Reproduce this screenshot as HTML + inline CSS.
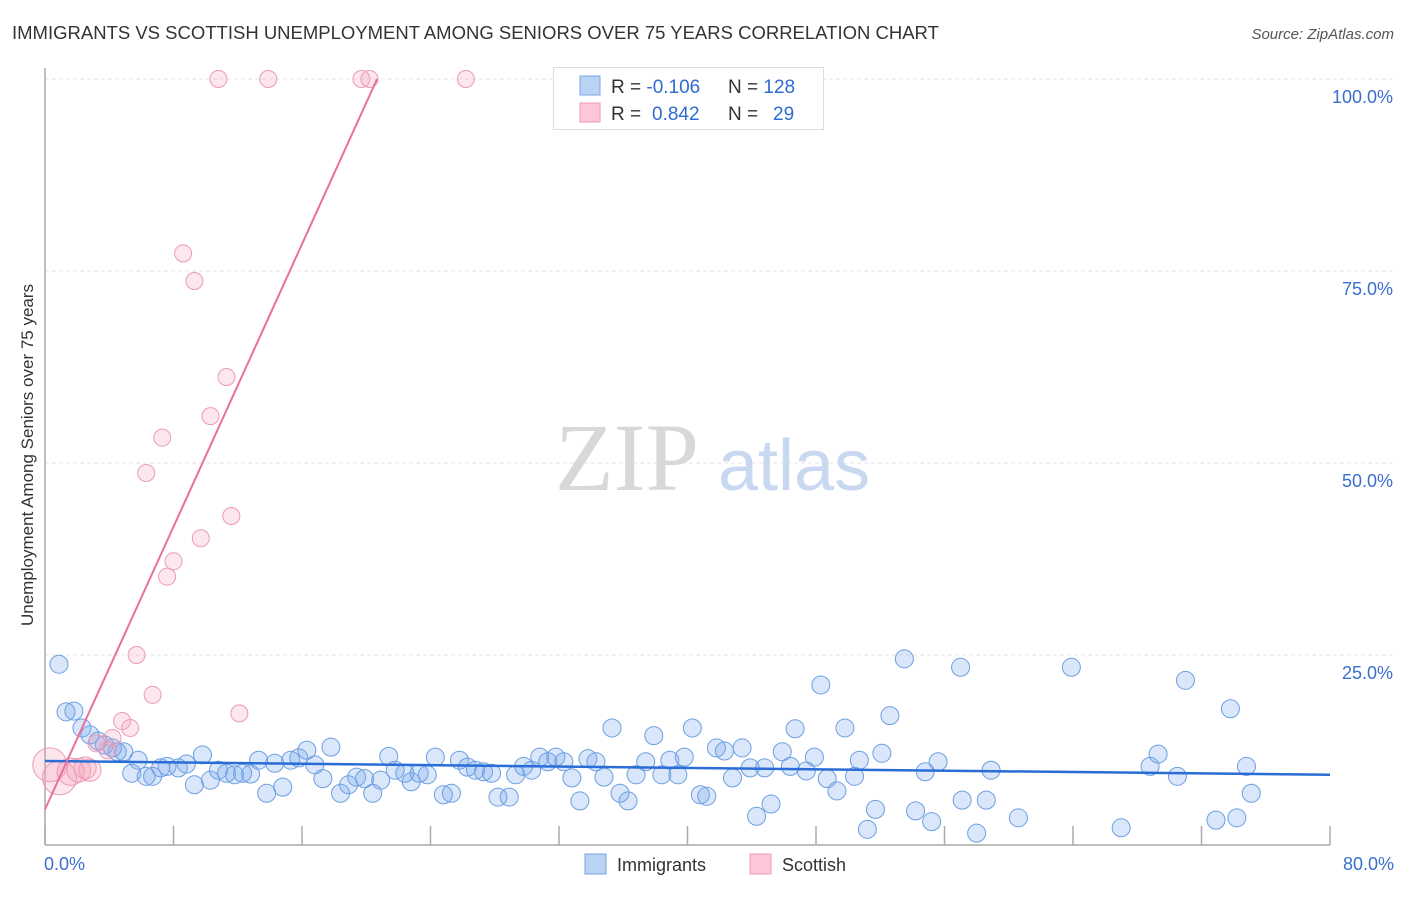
<!DOCTYPE html>
<html><head><meta charset="utf-8"><style>
body{margin:0;background:#fff;font-family:"Liberation Sans",sans-serif}
</style></head><body>
<svg width="1406" height="892" xmlns="http://www.w3.org/2000/svg">
<text x="12" y="39" font-size="18.5" fill="#333">IMMIGRANTS VS SCOTTISH UNEMPLOYMENT AMONG SENIORS OVER 75 YEARS CORRELATION CHART</text>
<text x="1394" y="39" font-size="15" fill="#555" font-style="italic" text-anchor="end">Source: ZipAtlas.com</text>
<g id="grid"></g>
<text x="555" y="490" font-size="96" font-family="Liberation Serif,serif" fill="#d8d8d8">ZIP</text>
<text x="718" y="490" font-size="72" fill="#c8d8f0">atlas</text>
<g id="axes"></g>
<g id="marks"></g>
<text transform="translate(33,455) rotate(-90)" font-size="17" fill="#333" text-anchor="middle">Unemployment Among Seniors over 75 years</text>
<g>
<rect x="553.5" y="67.5" width="270" height="62" fill="#fff" stroke="#ddd"/>
<rect x="580" y="76" width="20" height="19" fill="#b9d3f5" stroke="#7aa6e4"/>
<rect x="580" y="103" width="20" height="19" fill="#fcc8d8" stroke="#ec9ab6"/>
<text x="611" y="93" font-size="19" fill="#333">R = <tspan fill="#2f6bd0">-0.106</tspan></text>
<text x="728" y="93" font-size="19" fill="#333">N = <tspan fill="#2f6bd0">128</tspan></text>
<text x="611" y="120" font-size="19" fill="#333">R = <tspan fill="#2f6bd0" x="652">0.842</tspan></text>
<text x="728" y="120" font-size="19" fill="#333">N = <tspan fill="#2f6bd0" x="773">29</tspan></text>
</g>
<g>
<rect x="585" y="854" width="21" height="20" fill="#b9d3f5" stroke="#7aa6e4"/>
<text x="617" y="871" font-size="18" fill="#333">Immigrants</text>
<rect x="750" y="854" width="21" height="20" fill="#fcc8d8" stroke="#ec9ab6"/>
<text x="782" y="871" font-size="18" fill="#333">Scottish</text>
</g>
</svg>
<script>
const xTicks=[0,8,16,24,32,40,48,56,64,72,80];
const xTickLabels=["0.0%","80.0%"];
const yTicks=[25,50,75,100];
const yTickLabels=["25.0%","50.0%","75.0%","100.0%"];
const blueX=[0.87,1.31,1.8,2.3,2.8,3.3,3.7,4.2,4.5,4.9,5.8,5.4,6.3,6.7,7.2,7.6,8.3,8.8,9.3,9.8,10.3,10.8,11.3,11.8,12.3,12.8,13.3,13.8,14.3,14.8,15.3,15.8,16.3,16.8,17.3,17.8,18.4,18.9,19.4,19.9,20.4,20.9,21.4,21.8,22.4,22.8,23.3,23.8,24.3,24.8,25.3,25.8,26.3,26.8,27.3,27.8,28.2,28.9,29.3,29.8,30.3,30.8,31.3,31.8,32.3,32.8,33.3,33.8,34.3,34.8,35.3,35.8,36.3,36.8,37.4,37.9,38.4,38.9,39.4,39.8,40.3,40.8,41.2,41.8,42.3,42.8,43.4,43.9,44.3,44.8,45.2,45.9,46.4,46.7,47.4,47.9,48.3,48.7,49.3,49.8,50.4,50.7,51.2,51.7,52.1,52.6,53.5,54.2,54.8,55.2,55.6,57.0,57.1,58.0,58.6,58.9,60.6,63.9,67.0,68.8,69.3,70.5,71.0,72.9,73.8,74.2,74.8,75.1];
const blueY=[23.8,17.6,17.7,15.5,14.6,13.8,13.3,12.9,12.4,12.4,11.3,9.6,9.2,9.2,10.3,10.5,10.3,10.8,8.1,12.0,8.7,10.0,9.6,9.4,9.6,9.5,11.3,7.0,10.9,7.8,11.3,11.6,12.6,10.7,8.9,13.0,7.0,8.1,9.1,8.9,7.0,8.7,11.8,10.0,9.6,8.5,9.6,9.4,11.7,6.8,7.0,11.3,10.4,10.0,9.8,9.6,6.5,6.5,9.4,10.5,10.0,11.7,11.1,11.7,11.1,9.0,6.0,11.5,11.1,9.1,15.5,7.0,6.0,9.4,11.1,14.5,9.4,11.3,9.4,11.7,15.5,6.8,6.6,12.9,12.5,9.0,12.9,10.3,4.0,10.3,5.6,12.4,10.5,15.4,9.9,11.7,21.1,8.9,7.3,15.5,9.2,11.3,2.3,4.9,12.2,17.1,24.5,4.7,9.8,3.3,11.1,23.4,6.1,1.8,6.1,10.0,3.8,23.4,2.5,10.5,12.1,9.2,21.7,3.5,18.0,3.8,10.5,7.0];
const pinkX=[10.8,13.9,19.7,20.2,26.2,8.6,9.3,11.3,10.3,7.3,6.3,9.7,11.6,8.0,7.6,5.7,6.7,12.1,4.8,5.3,4.2,3.2,3.9,0.3,0.9,1.6,2.1,2.5,2.8];
const pinkY=[100,100,100,100,100,77.3,73.7,61.2,56.1,53.3,48.7,40.2,43.1,37.2,35.2,25.0,19.8,17.4,16.4,15.5,14.2,13.5,12.6,10.7,9.0,9.8,10.0,10.3,10.0];
const pinkSize=[1,1,1,1,1,1,1,1,1,1,1,1,1,1,1,1,1,1,1,1,1,1,1,2,2,1.6,1.4,1.3,1.3];
const blueLine=[11.2,-0.0225];
const pinkLine=[4.9,4.6];
const X0=45,X1=1330,Y0=847,Y100=79;
const sx=v=>X0+(v/80)*(X1-X0);
const sy=v=>Y0-(v/100)*(Y0-Y100);
const NS="http://www.w3.org/2000/svg";
function mk(tag,attrs,parent){const e=document.createElementNS(NS,tag);for(const k in attrs)e.setAttribute(k,attrs[k]);document.getElementById(parent).appendChild(e);return e;}
yTicks.forEach((t,i)=>{
 const g=mk('line',{x1:X0,x2:1393,y1:sy(t),y2:sy(t),stroke:'#e4e4e4','stroke-dasharray':'4,3'},'grid');
 
 
 const l=mk('text',{x:1393,y:sy(t)+24,'font-size':18,fill:'#3a6fd0','text-anchor':'end'},'grid');
 l.textContent=yTickLabels[i];
 
 
});
const ax=mk('line',{x1:X0,x2:X0,y1:68,y2:845,stroke:'#aaa','stroke-width':1.5},'axes');


const bx=mk('line',{x1:X0,x2:X1,y1:845,y2:845,stroke:'#aaa','stroke-width':1.5},'axes');


xTicks.forEach(t=>{
 const tk=mk('line',{x1:sx(t),x2:sx(t),y1:826,y2:845,stroke:'#aaa','stroke-width':1.5},'axes');
 
 
});
[[0,'start',44],[80,'end',1394]].forEach((d,i)=>{
 const l=mk('text',{x:d[2],y:870,'font-size':18,fill:'#3a6fd0','text-anchor':d[1]},'axes');
 l.textContent=xTickLabels[i];
 
 
});
blueX.forEach((x,i)=>{
 const c=mk('circle',{cx:sx(x),cy:sy(blueY[i]),r:9,fill:'rgba(120,165,235,0.27)',stroke:'#6c9fe2','stroke-width':1},'marks');
 
 
});
pinkX.forEach((x,i)=>{
 const c=mk('circle',{cx:sx(x),cy:sy(pinkY[i]),r:8.5*pinkSize[i],fill:'rgba(245,160,185,0.25)',stroke:'#ec9ab6','stroke-width':1},'marks');
 
 
});
const bl=mk('line',{x1:sx(0),y1:sy(blueLine[0]),x2:sx(80),y2:sy(blueLine[0]+blueLine[1]*80),stroke:'#2a6dd6','stroke-width':2.5},'marks');


const pxEnd=(100-pinkLine[0])/pinkLine[1];
const pl=mk('line',{x1:sx(0),y1:sy(pinkLine[0]),x2:sx(pxEnd),y2:sy(100),stroke:'#e8709a','stroke-width':2},'marks');


</script>
</body></html>
